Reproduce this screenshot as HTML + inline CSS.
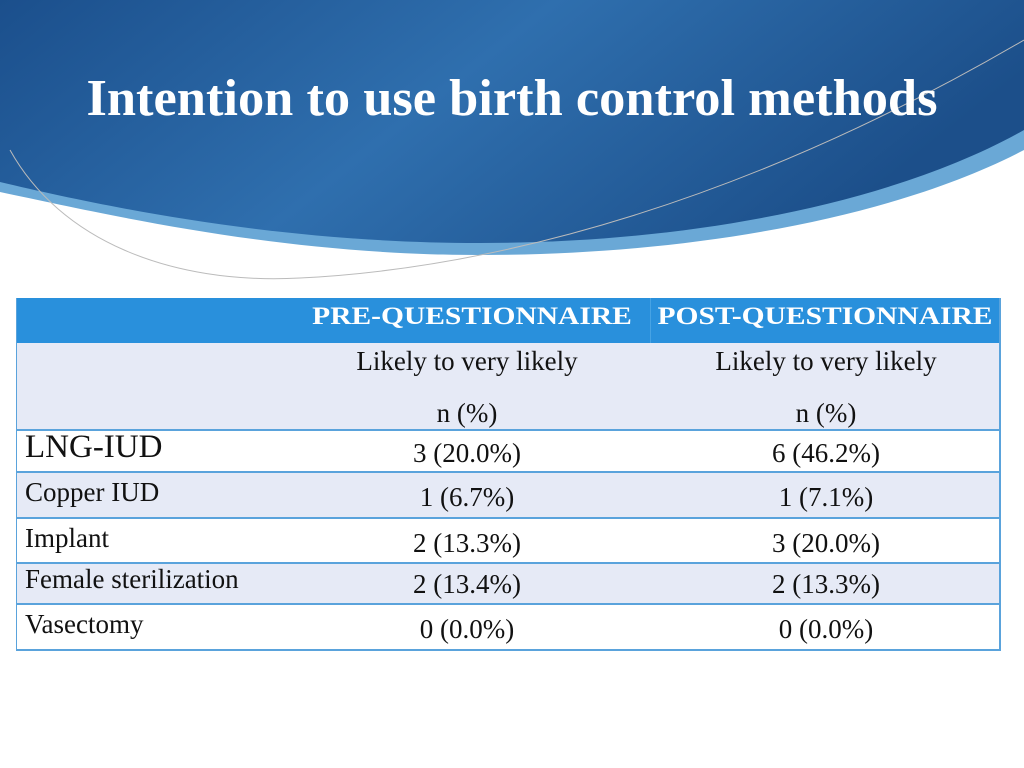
<!DOCTYPE html>
<html><head><meta charset="utf-8"><style>
body{margin:0;width:1024px;height:768px;position:relative;background:#fff;overflow:hidden;font-family:"Liberation Serif",serif;}
.bg{position:absolute;left:0;top:0}
.row{position:absolute;left:16px;width:985px;border-bottom:2px solid #5aa3dc;box-sizing:border-box;border-left:1px solid #5aa3dc;border-right:2px solid #5aa3dc}
.t{position:absolute;white-space:nowrap;color:#111;font-size:27px;line-height:30px}
.c1{left:292px;width:350px;text-align:center}
.c2{left:651px;width:350px;text-align:center}
.hd{color:#fff;font-weight:bold;font-size:25px;transform:scaleX(1.18)}
.lb{left:25px}
</style></head><body>
<svg class="bg" width="1024" height="300" viewBox="0 0 1024 300">
<defs><linearGradient id="g" x1="0" y1="0" x2="1" y2="0.3"><stop offset="0" stop-color="#1b4f8c"/><stop offset="0.5" stop-color="#2f6fae"/><stop offset="1" stop-color="#1c4f8a"/></linearGradient></defs>
<path d="M0 0H1024V150C900 215 700 255 480 255C280 255 110 215 0 192Z" fill="#6aa8d6"/>
<path d="M0 0H1024V130C900 200 700 243 480 243C280 243 110 208 0 182Z" fill="url(#g)"/>
<path d="M10 150C60 240 170 285 300 278C500 268 750 200 1024 40" fill="none" stroke="#bbb" stroke-width="1"/>
<text x="512" y="115" text-anchor="middle" fill="#fff" font-family="Liberation Serif,serif" font-weight="bold" font-size="52" textLength="851" lengthAdjust="spacingAndGlyphs">Intention to use birth control methods</text>
</svg>
<div>
<div class="row" style="top:298px;height:45px;background:#2990dc;border-bottom:none"></div>
<div style="position:absolute;left:650px;top:298px;width:1px;height:132px;background:#5cb0ea;opacity:.6"></div>
<div class="row" style="top:343px;height:88px;background:#e6eaf6"></div>
<div class="row" style="top:431px;height:42px;background:#fff"></div>
<div class="row" style="top:473px;height:46px;background:#e6eaf6"></div>
<div class="row" style="top:519px;height:45px;background:#fff"></div>
<div class="row" style="top:564px;height:41px;background:#e6eaf6"></div>
<div class="row" style="top:605px;height:46px;background:#fff"></div>

<div class="t c1 hd" style="top:302px;left:297px">PRE-QUESTIONNAIRE</div>
<div class="t c2 hd" style="top:302px;left:650px">POST-QUESTIONNAIRE</div>
<div class="t c1" style="top:346px">Likely to very likely</div>
<div class="t c2" style="top:346px">Likely to very likely</div>
<div class="t c1" style="top:398px">n (%)</div>
<div class="t c2" style="top:398px">n (%)</div>

<div class="t lb" style="top:430px;font-size:33px;line-height:34px">LNG-IUD</div>
<div class="t c1" style="top:438px">3 (20.0%)</div>
<div class="t c2" style="top:438px">6 (46.2%)</div>

<div class="t lb" style="top:477px">Copper IUD</div>
<div class="t c1" style="top:482px">1 (6.7%)</div>
<div class="t c2" style="top:482px">1 (7.1%)</div>

<div class="t lb" style="top:523px">Implant</div>
<div class="t c1" style="top:528px">2 (13.3%)</div>
<div class="t c2" style="top:528px">3 (20.0%)</div>

<div class="t lb" style="top:564px">Female sterilization</div>
<div class="t c1" style="top:569px">2 (13.4%)</div>
<div class="t c2" style="top:569px">2 (13.3%)</div>

<div class="t lb" style="top:609px">Vasectomy</div>
<div class="t c1" style="top:614px">0 (0.0%)</div>
<div class="t c2" style="top:614px">0 (0.0%)</div>
</div>
</body></html>
